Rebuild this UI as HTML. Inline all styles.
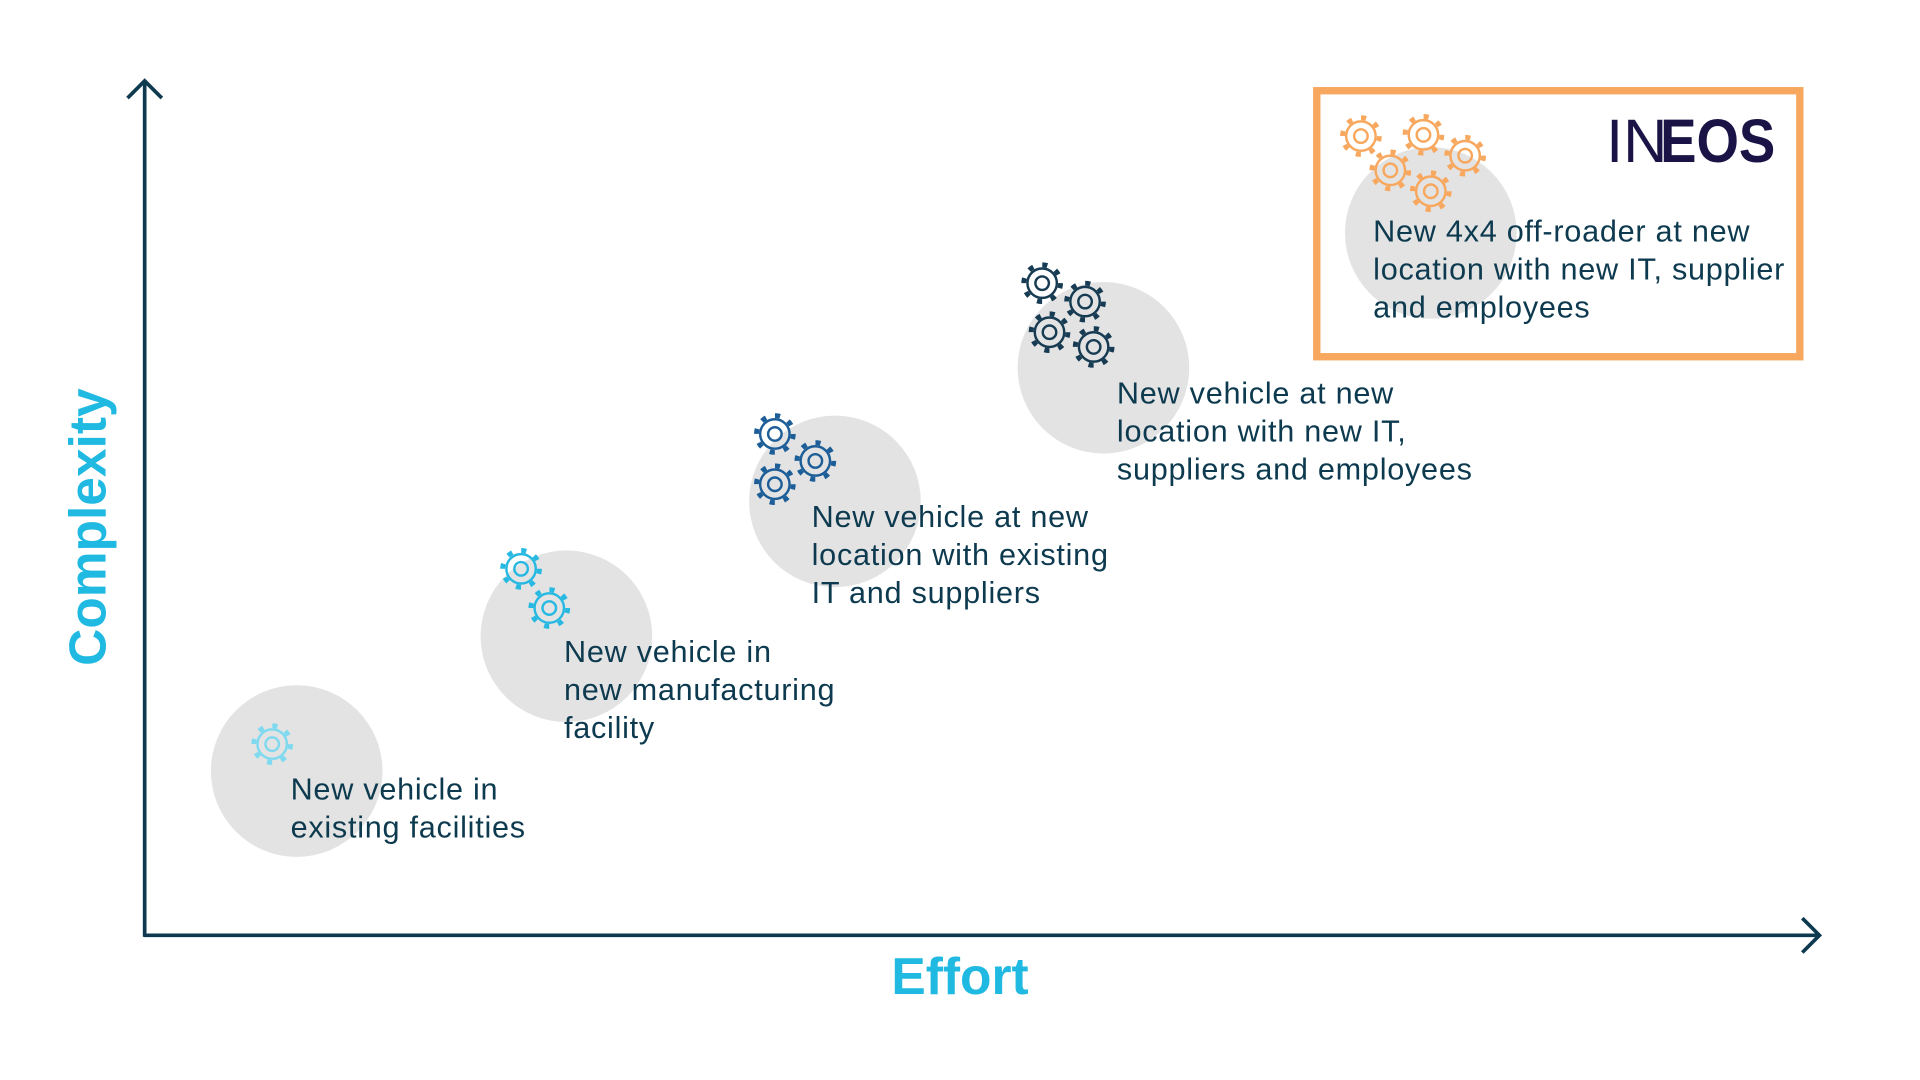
<!DOCTYPE html>
<html><head><meta charset="utf-8"><style>
html,body{margin:0;padding:0;background:#fff;}
svg{display:block;}
text{font-family:"Liberation Sans",sans-serif;}
.t{font-size:25px;fill:#0d3a4f;letter-spacing:0.6px;}
</style></head><body>
<svg width="1920" height="1080" viewBox="0 0 1566 881" preserveAspectRatio="none" xmlns="http://www.w3.org/2000/svg">
<defs>
<g id="gear">
<circle r="15" fill="none" stroke-width="4" stroke-dasharray="4.2 7.58" stroke="currentColor"/>
<circle r="12" fill="none" stroke-width="2" stroke="currentColor"/>
<circle r="5.5" fill="none" stroke-width="2" stroke="currentColor"/>
</g>
</defs>
<rect x="1074" y="74" width="394" height="217" fill="#fff" stroke="#f7a85e" stroke-width="6"/>
<g fill="#e3e3e3">
<circle cx="242" cy="629" r="70"/>
<circle cx="462" cy="519" r="70"/>
<circle cx="681" cy="409" r="70"/>
<circle cx="900" cy="300" r="70"/>
<circle cx="1167" cy="190" r="70"/>
</g>
<g stroke="#0d3a4f" stroke-width="3" fill="none">
<line x1="118" y1="66" x2="118" y2="764"/>
<line x1="117" y1="763" x2="1484" y2="763"/>
<polyline points="104,80 118,66 132,80"/>
<polyline points="1470,749 1484,763 1470,777"/>
</g>
<text x="75" y="430" transform="rotate(-90 75 430)" text-anchor="middle" dominant-baseline="middle" font-size="42" font-weight="bold" fill="#1fb9e2">Complexity</text>
<text x="783" y="811" text-anchor="middle" font-size="42" font-weight="bold" fill="#1fb9e2">Effort</text>
<g color="#7fd9ef"><use href="#gear" x="222" y="607"/></g>
<g color="#28b9e2"><use href="#gear" x="425" y="464"/><use href="#gear" x="448" y="496"/></g>
<g color="#1d5e98"><use href="#gear" x="632" y="354"/><use href="#gear" x="665" y="376"/><use href="#gear" x="632" y="395"/></g>
<g color="#163b52"><use href="#gear" x="850" y="231"/><use href="#gear" x="885" y="246"/><use href="#gear" x="856" y="271"/><use href="#gear" x="892" y="283"/></g>
<g color="#f7a85e"><use href="#gear" x="1110" y="111"/><use href="#gear" x="1161" y="110"/><use href="#gear" x="1195" y="127"/><use href="#gear" x="1134" y="139"/><use href="#gear" x="1167" y="156"/></g>
<text class="t" x="237" y="652"><tspan x="237">New vehicle in</tspan><tspan x="237" dy="31">existing facilities</tspan></text>
<text class="t" x="460" y="540"><tspan x="460">New vehicle in</tspan><tspan x="460" dy="31">new manufacturing</tspan><tspan x="460" dy="31">facility</tspan></text>
<text class="t" x="662" y="430"><tspan x="662">New vehicle at new</tspan><tspan x="662" dy="31">location with existing</tspan><tspan x="662" dy="31">IT and suppliers</tspan></text>
<text class="t" x="911" y="329"><tspan x="911">New vehicle at new</tspan><tspan x="911" dy="31">location with new IT,</tspan><tspan x="911" dy="31">suppliers and employees</tspan></text>
<text class="t" x="1120" y="197"><tspan x="1120">New 4x4 off-roader at new</tspan><tspan x="1120" dy="31">location with new IT, supplier</tspan><tspan x="1120" dy="31">and employees</tspan></text>
<text x="1310" y="132" font-family="Liberation Serif,serif" font-size="50" fill="#1a1446">IN</text>
<text x="1354" y="132" font-size="50" font-weight="bold" fill="#1a1446" textLength="94" lengthAdjust="spacingAndGlyphs">EOS</text>
</svg>
</body></html>
